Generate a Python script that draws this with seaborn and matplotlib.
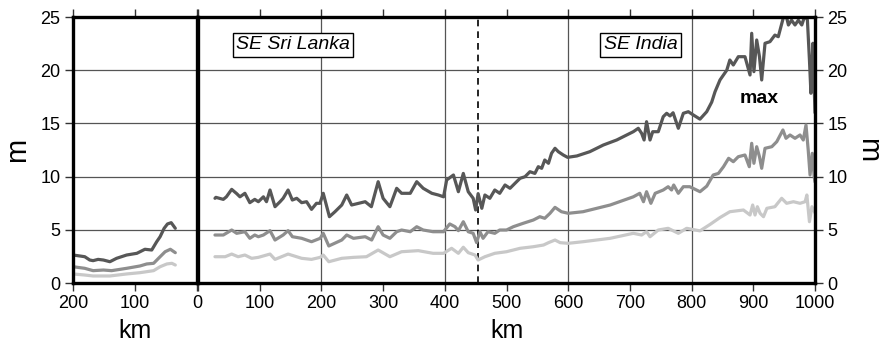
import matplotlib
matplotlib.use("Agg")
import matplotlib.pyplot as plt
import numpy as np
import pandas as pd
import seaborn as sns

# ---- wave height envelopes along the coast (km from the junction, metres) ----
# SE India side, plotted left of the junction (distance runs 200 -> 0)
india_far_km_max = [200, 189, 181, 173, 167.6, 159.5, 151, 140.5, 129.7, 113.5, 97, 84, 73, 65, 59.5, 53, 47.6, 41.6, 35]
india_far_m_max = [2.63, 2.54, 2.47, 2.16, 2.1, 2.22, 2.16, 2.0, 2.32, 2.63, 2.79, 3.17, 3.1, 3.88, 4.35, 5.14, 5.55, 5.67, 5.14]
india_far_km_mid = [200, 181, 167.6, 151, 137.8, 113.5, 92, 81, 70, 59.5, 51.4, 43, 35]
india_far_m_mid = [1.53, 1.38, 1.16, 1.22, 1.16, 1.38, 1.6, 1.79, 1.85, 2.47, 2.94, 3.17, 2.85]
india_far_km_low = [200, 181, 167.6, 140.5, 113.5, 92, 70, 59.5, 48.6, 40.5, 35]
india_far_m_low = [0.85, 0.75, 0.66, 0.66, 0.85, 0.97, 1.16, 1.53, 1.79, 1.85, 1.69]

# Main section: SE Sri Lanka (0-453 km) then SE India (453-1000 km)
main_km_max = [27.5, 29, 41, 46, 54.6, 62.7, 68, 76, 84, 92, 97.8, 106, 111, 116.7, 124.8, 133, 138, 146,
               152.9, 160, 168, 176, 184, 192, 197.7, 203, 213, 222, 233, 241, 249, 271, 281, 292, 300, 311,
               322, 330, 344, 354.5, 365, 379, 389.5, 398, 403, 414, 422, 430, 438, 446, 450, 454, 460, 465,
               473, 481, 489, 497.6, 505.7, 513.8, 522, 530, 538, 546, 551.5, 557, 562, 568, 573, 578.6, 584,
               592, 599, 614, 635, 657, 678.6, 705.5, 713.6, 719, 723, 727, 732.6, 737, 746, 754, 759.6, 765,
               770, 778.5, 786.6, 794.7, 802.8, 813.6, 824.5, 832.6, 838, 846, 857, 862, 867.6, 875.7, 886.5,
               894.7, 897.4, 901, 905.5, 910, 913.6, 919, 927, 935, 940.5, 948.5, 953, 956.9, 962, 967.6, 973,
               978.6, 984, 987.7, 991, 993.4, 996.6, 998.7, 1000]
main_m_max = [7.96, 8.05, 7.86, 8.1, 8.8, 8.4, 8.1, 8.43, 7.55, 7.86, 7.64, 8.1, 7.64, 8.74, 7.17, 7.64, 7.96, 8.74,
              7.8, 7.96, 7.55, 7.64, 6.92, 7.49, 7.49, 8.43, 6.23, 6.7, 7.33, 8.27, 7.33, 7.64, 7.17, 9.52, 7.96, 7.17,
              8.9, 8.43, 8.43, 9.52, 8.9, 8.43, 8.27, 8.1, 9.68, 10.15, 8.58, 10.3, 8.58, 7.96, 6.86, 8.4, 7.02, 8.27,
              7.96, 8.74, 8.43, 9.21, 8.9, 9.37, 9.84, 9.99, 10.46, 10.3, 10.93, 10.78, 11.56, 11.25, 12.19, 12.66, 12.34,
              12.03, 11.81, 11.94, 12.34, 12.97, 13.44, 14.22, 14.54, 14.07, 13.44, 15.16, 13.44, 14.22, 14.22, 15.63, 15.95, 15.7,
              16.0, 14.54, 15.95, 16.1, 15.79, 15.4, 16.1, 17.0, 17.98, 19.08, 20.0, 20.96, 20.49, 21.27, 21.27,
              19.55, 23.47, 19.86, 22.84, 21.27, 19.08, 22.53, 22.68, 23.3, 23.15, 24.9, 25.2, 24.25, 24.7, 24.25, 24.7,
              24.25, 25.2, 24.7, 20.96, 17.83, 22.53, 18.45, 16.0]
main_km_mid = [27.5, 41, 54.6, 62.7, 76, 84, 92, 97.8, 106, 116.7, 124.8, 138, 146, 153, 168, 184, 198, 203, 212,
               233, 241, 252, 271, 281.5, 292, 300, 311, 322, 330, 344, 354.5, 365, 381, 398, 408, 416.5, 422, 430,
               438, 446, 451.5, 457, 462, 470, 481, 489, 500, 511, 527, 543.5, 554, 562, 570.5, 578.6, 589, 600,
               624, 668, 705.5, 716, 722, 727, 734, 741, 754, 762, 767.5, 771, 778.5, 786.6, 797, 813.6, 824.5,
               835, 843.5, 851.7, 860, 867.6, 875.7, 886.5, 893.5, 897.4, 901, 905.5, 910, 913.6, 919, 930, 938,
               948, 953, 959.5, 967.6, 975.7, 981, 985.4, 989, 992, 995.6, 998.7, 1000]
main_m_mid = [4.51, 4.51, 4.98, 4.67, 4.82, 4.2, 4.51, 4.35, 4.51, 4.92, 4.04, 4.51, 4.92, 4.35, 4.2, 3.88, 4.2, 4.67, 3.48,
              4.04, 4.51, 4.2, 4.35, 4.04, 5.29, 4.51, 4.2, 4.82, 4.98, 4.82, 5.29, 4.98, 4.82, 4.82, 5.55, 5.29, 4.92, 5.76,
              4.82, 4.67, 3.8, 4.82, 4.2, 4.82, 4.67, 4.98, 4.98, 5.29, 5.61, 5.92, 6.23, 6.08, 6.55, 7.11, 6.7, 6.55,
              6.7, 7.33, 8.1, 8.43, 7.64, 8.58, 7.49, 8.43, 8.74, 9.05, 8.74, 9.21, 8.43, 9.05, 9.05, 8.58, 9.1,
              10.15, 10.3, 10.93, 11.72, 11.4, 11.87, 12.03, 10.93, 13.13, 11.25, 12.81, 11.87, 10.78, 12.66, 12.81, 13.28,
              14.38, 13.6, 13.91, 13.6, 13.91, 13.44, 14.85, 12.5, 10.15, 12.19, 9.99, 9.5]
main_km_low = [27.5, 44, 54.6, 65, 76, 87, 97.8, 116.7, 124.8, 146, 168, 184, 198, 203, 212, 233, 252, 273, 292,
               311, 330, 357, 381, 398, 411, 422, 430, 438, 449, 454, 465, 481, 500, 522, 543.5, 560, 568, 578.6,
               587, 600, 624, 668, 705.5, 719, 727, 732.6, 746, 762, 778.5, 792, 813.6, 829.8, 846, 862, 884,
               894.7, 899, 902.8, 906.6, 911, 916.5, 922, 935, 946, 954, 965, 975.7, 984, 986.8, 991, 995, 1000]
main_m_low = [2.47, 2.47, 2.72, 2.47, 2.63, 2.32, 2.41, 2.72, 2.22, 2.72, 2.32, 2.22, 2.41, 2.63, 2.0, 2.32, 2.41, 2.47, 3.1,
              2.47, 2.94, 3.04, 2.79, 2.79, 3.26, 2.79, 3.36, 2.85, 2.63, 2.16, 2.47, 2.79, 2.94, 3.26, 3.41, 3.57, 3.79, 4.04,
              3.79, 3.73, 3.88, 4.2, 4.67, 4.51, 4.82, 4.35, 4.98, 5.14, 4.67, 5.14, 4.9, 5.5, 6.15, 6.7, 6.86,
              6.39, 7.33, 6.39, 7.17, 6.55, 6.23, 7.02, 7.17, 7.96, 7.49, 7.64, 7.49, 7.64, 8.27, 5.76, 7.17, 6.6]

levels = ["max", "mid", "low"]
palette = {"max": "#575757", "mid": "#8e8e8e", "low": "#c8c8c8"}

y_ticks = [0, 5, 10, 15, 20, 25]
far_ticks = [200, 100, 0]
main_ticks = list(range(0, 1001, 100))
main_grid_km = [200, 400, 600, 800]
border_km = 453


def frame(pairs):
    parts = []
    for lvl, (km, m) in zip(levels, pairs):
        parts.append(pd.DataFrame({"km": km, "m": m, "level": lvl}))
    return pd.concat(parts, ignore_index=True)


far_df = frame([(india_far_km_max, india_far_m_max),
                (india_far_km_mid, india_far_m_mid),
                (india_far_km_low, india_far_m_low)])
main_df = frame([(main_km_max, main_m_max),
                 (main_km_mid, main_m_mid),
                 (main_km_low, main_m_low)])

sns.set_style("white")
plt.rcParams["font.family"] = ["Liberation Sans", "DejaVu Sans"]
plt.rcParams["text.color"] = "black"
plt.rcParams["axes.labelcolor"] = "black"
plt.rcParams["xtick.color"] = "black"
plt.rcParams["ytick.color"] = "black"

W, H = 881, 347
fig = plt.figure(figsize=(W / 100, H / 100), dpi=100)
bottom = 1 - 283 / H
height = 266 / H
ax_l = fig.add_axes([73 / W, bottom, 124 / W, height])
ax_r = fig.add_axes([198 / W, bottom, 617 / W, height])

for ax, df in ((ax_l, far_df), (ax_r, main_df)):
    sns.lineplot(data=df, x="km", y="m", hue="level", hue_order=levels, palette=palette,
                 estimator=None, sort=False, linewidth=2.3, legend=False, ax=ax, zorder=3)
    ax.set_ylim(0, 25)
    ax.set_yticks(y_ticks)
    for y in y_ticks[1:-1]:
        ax.axhline(y, color="#555555", lw=0.9, zorder=1)
    for sp in ax.spines.values():
        sp.set_visible(True)
        sp.set_color("black")
        sp.set_linewidth(2.4)
        sp.set_zorder(5)
    ax.tick_params(axis="both", which="both", direction="out", length=6, width=1,
                   color="#333333", labelcolor="black", labelsize=13, pad=3)
    ax.set_xlabel("km", fontsize=18, labelpad=5, color="black")

# left panel: distance decreasing towards the junction
ax_l.set_xlim(200, 0)
ax_l.set_xticks(far_ticks)
ax_l.tick_params(top=True, bottom=True, left=True, right=False, labelleft=True)
ax_l.set_ylabel("m", fontsize=21, labelpad=7, color="black")

# main panel
ax_r.set_xlim(0, 1000)
ax_r.set_xticks(main_ticks)
ax_r.set_xticklabels([""] + [str(t) for t in main_ticks[1:]])
ax_r.tick_params(top=True, bottom=True, left=False, labelleft=False, right=True, labelright=True)
ax_r.yaxis.set_label_position("right")
ax_r.set_ylabel("m", fontsize=21, rotation=270, labelpad=25, color="black")
for x in main_grid_km:
    ax_r.axvline(x, color="#555555", lw=0.9, zorder=1)
ax_r.axvline(border_km, color="black", lw=1.2, ls=(0, (4, 3)), zorder=2)

box = dict(boxstyle="square,pad=0.18", fc="white", ec="black", lw=1)
ax_r.text(154, 22.4, "SE Sri Lanka", style="italic", fontsize=14, ha="center", va="center",
          bbox=box, zorder=6)
ax_r.text(717, 22.4, "SE India", style="italic", fontsize=14, ha="center", va="center",
          bbox=box, zorder=6)
ax_r.text(909, 17.3, "max", fontweight="bold", fontsize=14, ha="center", va="center", zorder=6)

fig.savefig("out.png", dpi=100)
